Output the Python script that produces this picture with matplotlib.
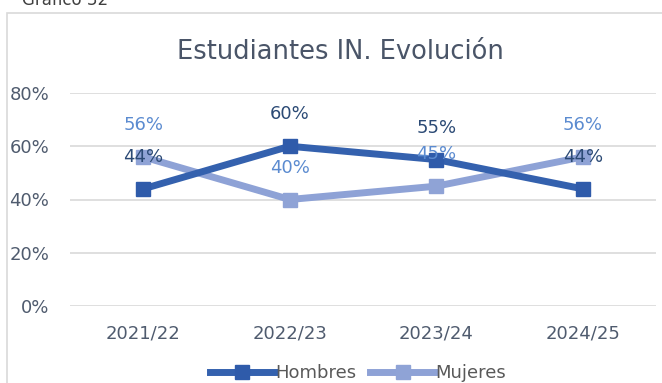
import numpy as np
import matplotlib.pyplot as plt
from matplotlib.patches import Rectangle

plt.rcParams['font.family'] = ['DejaVu Sans']

cursos = ['2021/22', '2022/23', '2023/24', '2024/25']
hombres = [0.44, 0.60, 0.55, 0.44]
mujeres = [0.56, 0.40, 0.45, 0.56]
yticks = [0, 0.2, 0.4, 0.6, 0.8]

c_h = '#3461AE'
c_m = '#8EA2D6'
c_lab_h = '#2B4A75'
c_lab_m = '#5B8BD0'
c_txt = '#4F5B6E'

fig = plt.figure(figsize=(6.62, 3.83), dpi=100)

# marco del grafico
fig.patches.append(Rectangle((7 / 662, -0.1), 1.0, 1 - 13 / 383 + 0.1,
                             transform=fig.transFigure, fill=False,
                             edgecolor='#D9D9D9', lw=1.2))
fig.text(22 / 662, 1 - 5 / 383, 'Gráfico 32', fontsize=12, color='#404040',
         ha='left', va='baseline')

ax = fig.add_axes([70 / 662, 77 / 383, 586 / 662, 213 / 383])
x = np.arange(len(cursos))
ax.set_xlim(-0.5, len(cursos) - 0.5)
ax.set_ylim(0, 0.8)

for y in yticks:
    ax.axhline(y, color='#D9D9D9', lw=1.2, zorder=0)
for s in ax.spines.values():
    s.set_visible(False)

ax.plot(x, hombres, color=c_h, lw=5, marker='s', ms=10,
        markerfacecolor='#2F5BAA', markeredgecolor='#2F5BAA', label='Hombres', zorder=3)
ax.plot(x, mujeres, color=c_m, lw=5, marker='s', ms=10,
        markerfacecolor='#8FA3D6', markeredgecolor='#8FA3D6', label='Mujeres', zorder=2)

fs = 13
for xi, v in zip(x, mujeres):
    ax.annotate(f'{v:.0%}', (xi, v), xytext=(0, 23), textcoords='offset points',
                ha='center', va='center', fontsize=fs, color=c_lab_m, zorder=4)
for xi, v in zip(x, hombres):
    ax.annotate(f'{v:.0%}', (xi, v), xytext=(0, 23), textcoords='offset points',
                ha='center', va='center', fontsize=fs, color=c_lab_h, zorder=5)

ax.set_xticks(x)
ax.set_xticklabels(cursos, fontsize=fs, color=c_txt)
ax.set_yticks(yticks)
ax.set_yticklabels([f'{v:.0%}' for v in yticks], fontsize=fs, color=c_txt)
ax.tick_params(length=0, pad=13)
ax.tick_params(axis='y', pad=15)

fig.text(340 / 662, 1 - 52 / 383, 'Estudiantes IN. Evolución', fontsize=18.5,
         color='#4A5568', ha='center', va='center')

fig.legend(loc='center', bbox_to_anchor=(358 / 662, 10 / 383), ncol=2, frameon=False,
           fontsize=fs, labelcolor='#595959', handlelength=3.6, handletextpad=0.0,
           columnspacing=0.8)

fig.savefig('out.png', dpi=100)
